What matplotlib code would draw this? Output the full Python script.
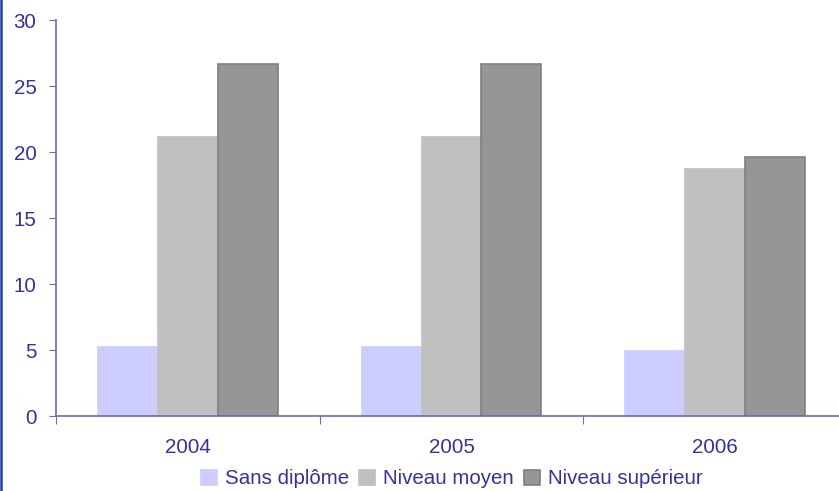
import numpy as np
import matplotlib
matplotlib.use("Agg")
from matplotlib import pyplot as plt
from matplotlib.lines import Line2D

plt.rcParams['font.family'] = ['Liberation Sans', 'DejaVu Sans']

years = ["2004", "2005", "2006"]
series = ["Sans diplôme", "Niveau moyen", "Niveau supérieur"]
sans_diplome = [5.2, 5.2, 4.9]
niveau_moyen = [21.1, 21.1, 18.7]
niveau_sup = [26.7, 26.7, 19.6]

text_col = "#333399"
axis_col = "#6a6ab8"
colors = ["#ccccff", "#c0c0c0", "#969696"]
edges = ["#ccccff", "#c0c0c0", "#808080"]

W, H = 839, 491
fig = plt.figure(figsize=(W / 100, H / 100), dpi=100)
ax = fig.add_axes([56 / W, 75 / H, 791 / W, 396 / H])

x = np.arange(len(years))
bw = 0.227
vals = [sans_diplome, niveau_moyen, niveau_sup]
for k in range(3):
    ax.bar(x + (k - 1) * bw, vals[k], width=bw, color=colors[k],
           edgecolor=edges[k], linewidth=1.2, label=series[k], zorder=2)

fs = 14.8
ax.set_xlim(-0.5, 2.5)
ax.set_ylim(0, 30)
ax.set_yticks(range(0, 31, 5))
ax.set_xticks([-0.5, 0.5, 1.5, 2.5])
ax.set_xticklabels([])
ax.set_xticks(x, minor=True)
ax.set_xticklabels(years, minor=True)
ax.tick_params(axis="x", which="minor", length=0, pad=16, labelsize=fs, labelcolor=text_col)
ax.tick_params(axis="x", which="major", length=6, color=axis_col, direction="out")
ax.tick_params(axis="y", length=5, color=axis_col, labelsize=fs, labelcolor=text_col, pad=9)

for s in ["top", "right"]:
    ax.spines[s].set_visible(False)
for s in ["left", "bottom"]:
    ax.spines[s].set_color(axis_col)
    ax.spines[s].set_linewidth(1.2)
ax.spines["bottom"].set_zorder(3)

leg = fig.legend(loc="center", bbox_to_anchor=(452 / W, 1 - 479 / H), ncol=3,
                 frameon=False, fontsize=fs, handlelength=0.75, handleheight=0.75,
                 handletextpad=0.4, columnspacing=0.5, borderaxespad=0)
for t in leg.get_texts():
    t.set_color(text_col)

# left border of the frame
fig.add_artist(Line2D([1 / W, 1 / W], [0, 1], color="#2040a0", linewidth=1.8))

fig.savefig("out.png", dpi=100)
